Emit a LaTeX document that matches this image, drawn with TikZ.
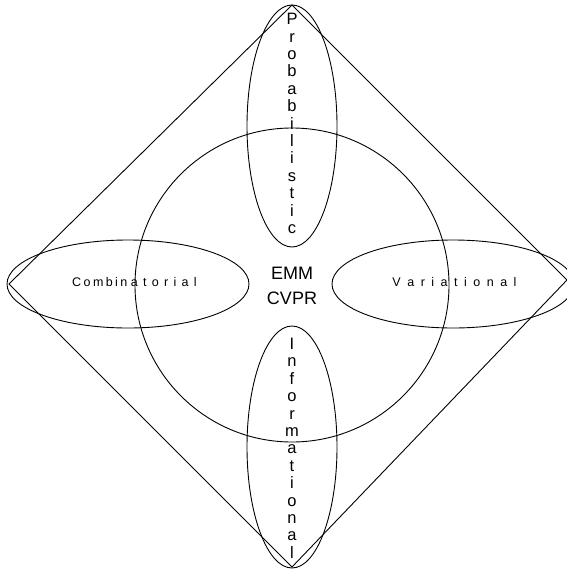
\documentclass[tikz,border=0pt]{standalone}
\usepackage{fontspec}
\setmainfont{Liberation Sans}
\tikzset{
  shape line/.style={draw=black, line width=0.9pt},
  label text/.style={inner sep=0pt, font=\fontsize{12.5}{14}\selectfont},
  stack text/.style={inner sep=0pt, align=center, font=\fontsize{16.5}{17.4}\selectfont},
  center text/.style={inner sep=0pt, align=center, font=\fontsize{18}{25.5}\selectfont}
}
\begin{document}
\begin{tikzpicture}[x=1pt,y=-1pt]
\useasboundingbox (0,0) rectangle (567,573);
% diamond
\coordinate (dt) at (292,5);
\coordinate (dr) at (567,280);
\coordinate (db) at (292,567);
\coordinate (dl) at (9,284);
\draw[shape line] (dt) -- (dr) -- (db) -- (dl) -- cycle;
% big circle
\coordinate (cc) at (292,285);
\draw[shape line] (cc) circle [radius=157pt];
% ellipses
\coordinate (et) at (292,126);
\coordinate (eb) at (292,447);
\coordinate (el) at (128,284);
\coordinate (er) at (453,284);
\draw[shape line] (et) ellipse [x radius=45pt, y radius=121pt];
\draw[shape line] (eb) ellipse [x radius=45pt, y radius=121pt];
\draw[shape line] (el) ellipse [x radius=121pt, y radius=44pt];
\draw[shape line] (er) ellipse [x radius=121pt, y radius=44pt];
% texts
\node[center text] (emm) at (292,286) {EMM\\CVPR};
\node[label text, anchor=base] (comb) at (134.5,286)
  {C\kern2.4pt o\kern2.4pt m\kern2.4pt b\kern2.4pt i\kern2.4pt n\kern3.6pt a\kern5.3pt t\kern5.3pt o\kern5.3pt r\kern5.3pt i\kern5.3pt a\kern5.3pt l};
\node[label text, anchor=base] (var) at (454.5,286)
  {V\kern6.5pt a\kern6.5pt r\kern6.5pt i\kern6.5pt a\kern6.5pt t\kern6.5pt i\kern6.5pt o\kern6.5pt n\kern6.5pt a\kern6.5pt l};
\node[stack text] (prob) at (292,123.5)
  {P\\r\\o\\b\\a\\b\\i\\l\\i\\s\\t\\i\\c};
\node[stack text] (info) at (292,448.3)
  {I\\n\\f\\o\\r\\m\\a\\t\\i\\o\\n\\a\\l};
\end{tikzpicture}
\end{document}
